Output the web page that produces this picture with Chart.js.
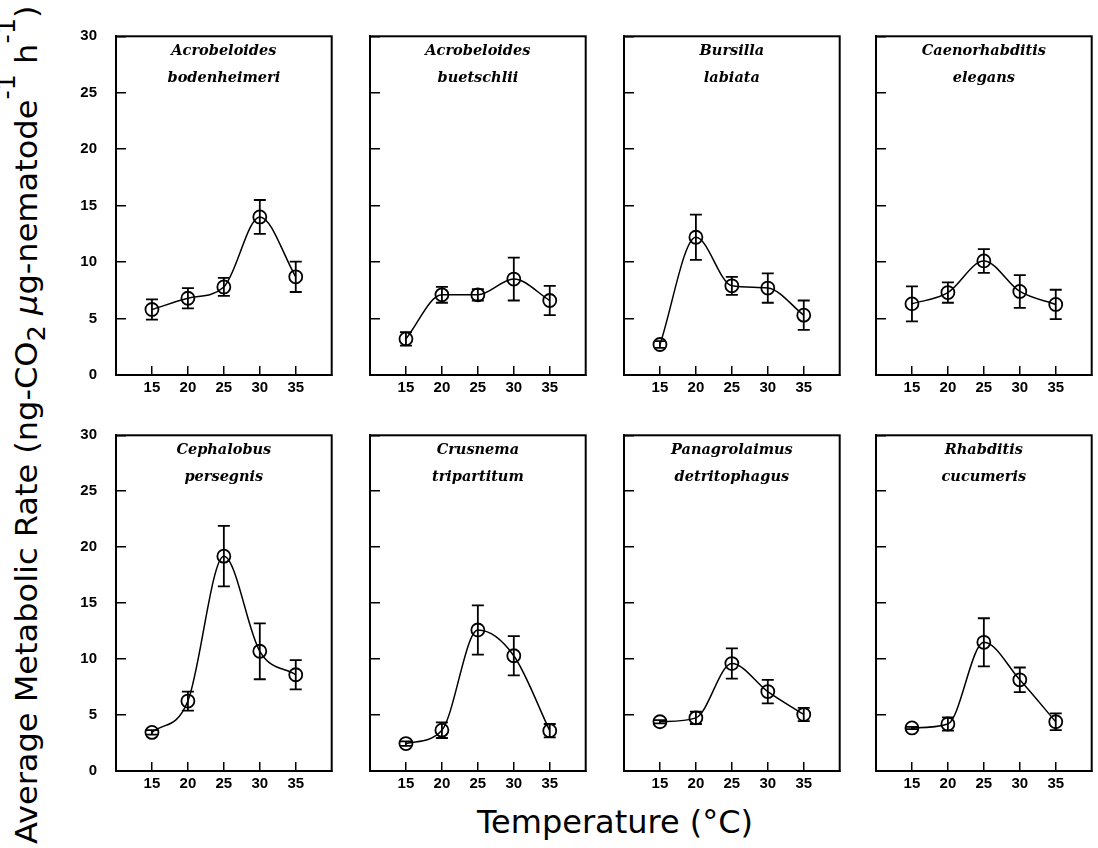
<!DOCTYPE html>
<html>
<head>
<meta charset="utf-8">
<script src="https://cdn.jsdelivr.net/npm/chart.js@4.4.0/dist/chart.umd.min.js"></script>
<style>
  body { margin: 0; background: #fff; }
  #page { position: relative; width: 1098px; height: 848px; overflow: hidden; background: #fff; }
  .panel { position: absolute; }
  #ytitle {
    position: absolute; left: 22px; top: 425px; white-space: nowrap;
    font-family: "DejaVu Sans", sans-serif; font-size: 30px; color: #000;
    transform-origin: 0 0;
  }
  #ytitle sub { font-size: 24px; vertical-align: -8px; }
  #ytitle sup { font-size: 24px; vertical-align: 22px; }
  #xtitle {
    position: absolute; left: 0; width: 1230px; top: 803px; text-align: center;
    font-family: "DejaVu Sans", sans-serif; font-size: 32px; color: #000;
  }
</style>
</head>
<body>
<div id="page">
  <div id="ytitle">Average Metabolic Rate (ng-CO<sub>2</sub> <i>μ</i>g-nematode<sup>-1</sup> h<sup>-1</sup>)</div>
  <div id="xtitle">Temperature (°C)</div>
</div>
<script>
// Temperatures (x values) and tick labels
const temperatures = [15, 20, 25, 30, 35];
const xTickValues = [15, 20, 25, 30, 35];
const yTickValues = [0, 5, 10, 15, 20, 25, 30];

// Mean metabolic rate and error per species
const bodenheimeriRate = [5.8, 6.8, 7.8, 14.0, 8.7];
const bodenheimeriErr = [0.9, 0.9, 0.8, 1.5, 1.35];
const buetschliiRate = [3.2, 7.1, 7.1, 8.5, 6.6];
const buetschliiErr = [0.6, 0.7, 0.5, 1.9, 1.3];
const labiataRate = [2.7, 12.2, 7.9, 7.7, 5.3];
const labiataErr = [0.3, 2.0, 0.8, 1.3, 1.3];
const elegansRate = [6.3, 7.3, 10.1, 7.4, 6.25];
const elegansErr = [1.55, 0.9, 1.05, 1.45, 1.3];
const persegnisRate = [3.45, 6.25, 19.2, 10.7, 8.6];
const persegnisErr = [0.2, 0.85, 2.7, 2.5, 1.3];
const tripartitumRate = [2.45, 3.65, 12.6, 10.3, 3.6];
const tripartitumErr = [0.2, 0.7, 2.2, 1.75, 0.6];
const detritophagusRate = [4.4, 4.75, 9.6, 7.1, 5.05];
const detritophagusErr = [0.15, 0.55, 1.35, 1.05, 0.6];
const cucumerisRate = [3.85, 4.2, 11.5, 8.15, 4.4];
const cucumerisErr = [0.1, 0.6, 2.15, 1.1, 0.75];

const speciesTitles = [
  ["Acrobeloides", "bodenheimeri"],
  ["Acrobeloides", "buetschlii"],
  ["Bursilla", "labiata"],
  ["Caenorhabditis", "elegans"],
  ["Cephalobus", "persegnis"],
  ["Crusnema", "tripartitum"],
  ["Panagrolaimus", "detritophagus"],
  ["Rhabditis", "cucumeris"],
];
const speciesRates = [bodenheimeriRate, buetschliiRate, labiataRate, elegansRate,
  persegnisRate, tripartitumRate, detritophagusRate, cucumerisRate];
const speciesErrors = [bodenheimeriErr, buetschliiErr, labiataErr, elegansErr,
  persegnisErr, tripartitumErr, detritophagusErr, cucumerisErr];

// Panel frame layout (pixels)
const frameLefts = [116, 370, 624, 876];
const frameTops = [34, 433];
const frameWidth = 218;
const frameHeights = [341, 338];
const AXIS_W = 45, AXIS_H = 30, PAD = 6;

const tickFont = { family: "'Liberation Sans', sans-serif", size: 15, weight: "bold" };

// Full box around the plot area
const framePlugin = {
  id: "frame",
  afterDraw(chart) {
    const { ctx, chartArea: a } = chart;
    ctx.save();
    ctx.strokeStyle = "#000";
    ctx.lineWidth = 2;
    ctx.strokeRect(a.left, a.top, a.right - a.left, a.bottom - a.top);
    ctx.restore();
  },
};

// Vertical error bars with caps
const errorBarPlugin = {
  id: "errorBars",
  afterDatasetsDraw(chart) {
    const { ctx } = chart;
    const xs = chart.scales.x, ys = chart.scales.y;
    chart.data.datasets.forEach((ds) => {
      if (!ds.errors) return;
      ctx.save();
      ctx.strokeStyle = "#000";
      ctx.lineWidth = 1.8;
      ds.data.forEach((pt, i) => {
        const e = ds.errors[i];
        const x = xs.getPixelForValue(pt.x);
        const yTop = ys.getPixelForValue(pt.y + e);
        const yBot = ys.getPixelForValue(pt.y - e);
        ctx.beginPath();
        ctx.moveTo(x, yTop); ctx.lineTo(x, yBot);
        ctx.moveTo(x - 6, yTop); ctx.lineTo(x + 6, yTop);
        ctx.moveTo(x - 6, yBot); ctx.lineTo(x + 6, yBot);
        ctx.stroke();
      });
      ctx.restore();
    });
  },
};

// Species name inside the top of the frame
const panelTitlePlugin = {
  id: "panelTitle",
  afterDraw(chart, args, opts) {
    const { ctx, chartArea: a } = chart;
    const cx = (a.left + a.right) / 2;
    ctx.save();
    ctx.fillStyle = "#000";
    ctx.font = "italic bold 14.5px 'DejaVu Serif', serif";
    ctx.textAlign = "center";
    ctx.textBaseline = "middle";
    opts.lines.forEach((line, i) => ctx.fillText(line, cx, a.top + 15 + i * 27));
    ctx.restore();
  },
};

// Keep label padding from shrinking the plot area
function clearPadding(scale) {
  scale.paddingTop = 0;
  scale.paddingBottom = 0;
  scale.paddingLeft = 0;
  scale.paddingRight = 0;
}

const page = document.getElementById("page");

speciesTitles.forEach((title, idx) => {
  const row = Math.floor(idx / 4), col = idx % 4;
  const canvas = document.createElement("canvas");
  const w = frameWidth + AXIS_W + PAD, h = frameHeights[row] + PAD + AXIS_H;
  canvas.width = w;
  canvas.height = h;
  canvas.className = "panel";
  canvas.style.left = (frameLefts[col] - AXIS_W) + "px";
  canvas.style.top = (frameTops[row] - PAD) + "px";
  canvas.style.width = w + "px";
  canvas.style.height = h + "px";
  page.appendChild(canvas);

  const points = temperatures.map((t, i) => ({ x: t, y: speciesRates[idx][i] }));

  new Chart(canvas, {
    type: "line",
    data: {
      datasets: [{
        data: points,
        errors: speciesErrors[idx],
        borderColor: "#000",
        borderWidth: 1.5,
        cubicInterpolationMode: "monotone",
        fill: false,
        pointRadius: 6.5,
        pointBorderWidth: 1.8,
        pointBorderColor: "#000",
        pointBackgroundColor: "rgba(0,0,0,0)",
      }],
    },
    options: {
      responsive: false,
      animation: false,
      devicePixelRatio: 1,
      layout: { padding: { top: PAD, right: PAD, left: 0, bottom: 0 } },
      plugins: {
        legend: { display: false },
        tooltip: { enabled: false },
        panelTitle: { lines: title },
      },
      scales: {
        x: {
          type: "linear",
          min: 10,
          max: 40,
          afterBuildTicks: (scale) => {
            scale.ticks = xTickValues.map((v) => ({ value: v }));
          },
          afterFit: (scale) => { scale.height = AXIS_H; clearPadding(scale); },
          grid: { drawOnChartArea: false, drawTicks: true, tickLength: -9, color: "#000", lineWidth: 1.5 },
          border: { display: true, color: "#000", width: 2 },
          ticks: { color: "#000", font: tickFont, padding: 13, maxRotation: 0 },
        },
        y: {
          min: 0,
          max: 30,
          afterBuildTicks: (scale) => {
            scale.ticks = yTickValues.map((v) => ({ value: v }));
          },
          afterFit: (scale) => { scale.width = AXIS_W; clearPadding(scale); },
          grid: { drawOnChartArea: false, drawTicks: true, tickLength: -10, color: "#000", lineWidth: 1.5 },
          border: { display: true, color: "#000", width: 2 },
          ticks: { display: col === 0, color: "#000", font: tickFont, padding: 29 },
        },
      },
    },
    plugins: [framePlugin, errorBarPlugin, panelTitlePlugin],
  });
});

// Fit the rotated y title to the figure height
const yt = document.getElementById("ytitle");
const s = 838 / yt.offsetWidth;
const hh = yt.offsetHeight;
yt.style.left = (22 - hh / 2) + "px";
yt.style.top = (425 + 838 / 2) + "px";
yt.style.transform = "rotate(-90deg) scaleX(" + s + ")";
</script>
</body>
</html>
